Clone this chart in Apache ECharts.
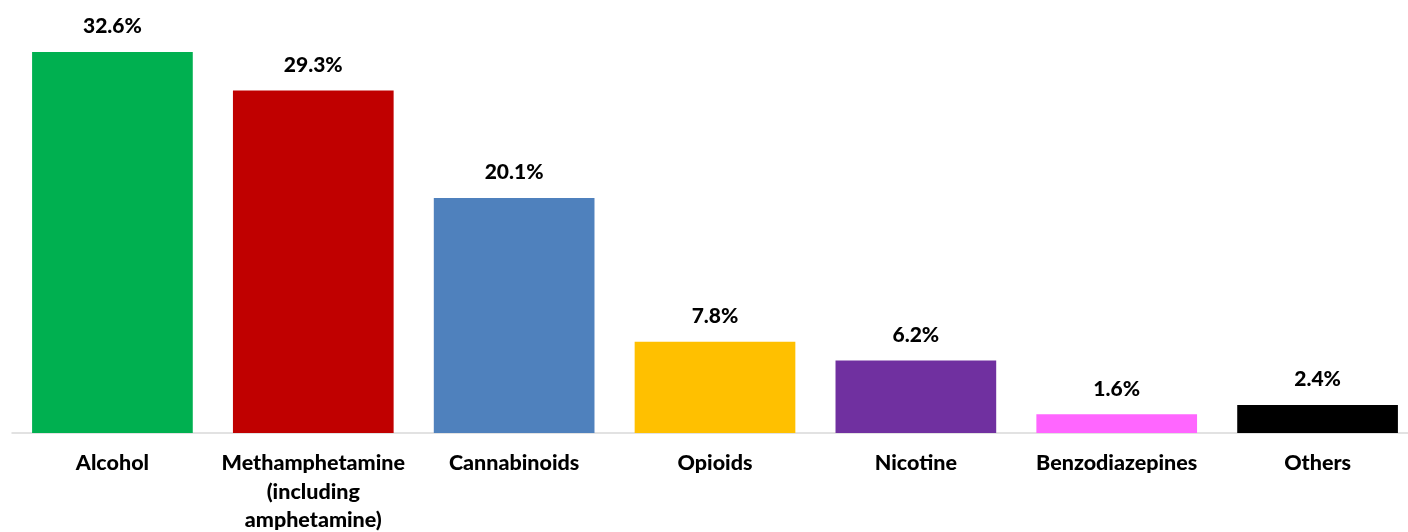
<!DOCTYPE html>
<html>
<head>
<meta charset="utf-8">
<script src="https://cdn.jsdelivr.net/npm/echarts@6/dist/echarts.min.js"></script>
<style>html,body{margin:0;padding:0;background:#fff;}#c{width:1408px;height:532px;}</style>
</head>
<body>
<div id="c"></div>
<script>
const categories = ['Alcohol', 'Methamphetamine\n(including\namphetamine)', 'Cannabinoids', 'Opioids', 'Nicotine', 'Benzodiazepines', 'Others'];
const values = [32.6, 29.3, 20.1, 7.8, 6.2, 1.6, 2.4];
const colors = ['#00B050', '#C00000', '#4F81BD', '#FFC000', '#7030A0', '#FF66FF', '#000000'];

const chart = echarts.init(document.getElementById('c'), null, {renderer: 'canvas'});
chart.setOption({
  animation: false,
  grid: {left: 12, top: 24, width: 1406, height: 409, containLabel: false, outerBoundsMode: 'none'},
  xAxis: {
    type: 'category',
    data: categories,
    axisLine: {lineStyle: {color: '#d9d9d9', width: 1.5}},
    axisTick: {show: false},
    axisLabel: {
      interval: 0,
      margin: 16,
      color: '#000',
      fontFamily: 'Lato',
      fontWeight: 900,
      fontSize: 21.5,
      lineHeight: 28.5
    }
  },
  yAxis: {type: 'value', min: 0, max: 35, show: false, splitLine: {show: false}},
  series: [{
    type: 'bar',
    barWidth: '80%',
    data: values.map((v, i) => ({value: v, itemStyle: {color: colors[i]}})),
    label: {
      show: true,
      position: 'top',
      distance: 15,
      color: '#000',
      fontFamily: 'Lato',
      fontWeight: 900,
      fontSize: 21,
      formatter: p => p.value.toFixed(1) + '%'
    }
  }]
});
</script>
</body>
</html>
